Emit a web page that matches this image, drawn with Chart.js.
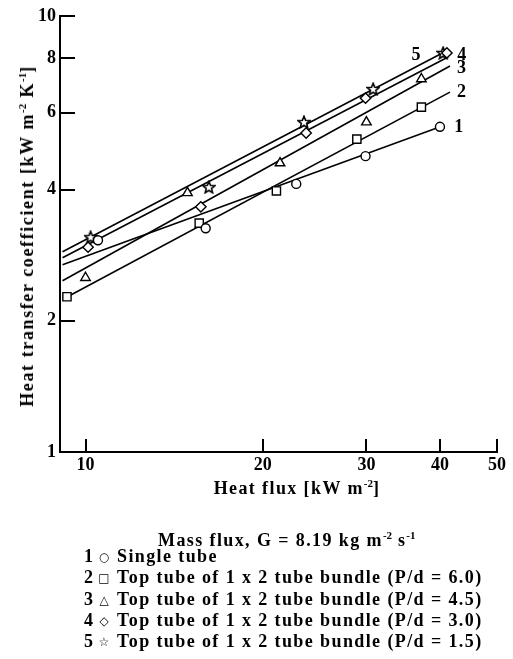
<!DOCTYPE html>
<html>
<head>
<meta charset="utf-8">
<script src="https://cdn.jsdelivr.net/npm/chart.js@4.4.0/dist/chart.umd.min.js"></script>
<style>
  html, body { margin: 0; padding: 0; background: #fff; }
  #wrap { position: relative; width: 513px; height: 659px; overflow: hidden;
    font-family: "Liberation Serif", "Times New Roman", serif; font-weight: bold; color: #000; }
  #plot { position: absolute; left: 0; top: 0; }
  .txt { position: absolute; white-space: nowrap; font-size: 18px; line-height: 20px; letter-spacing: 1.4px; }
  sup { font-size: 11px; line-height: 0; vertical-align: 7px; letter-spacing: 0; }
  #xtitle { left: 297px; top: 478px; transform: translateX(-50%); }
  #ytitle { left: 27px; top: 236px; transform: translate(-50%, -50%) rotate(-90deg); letter-spacing: 1.6px; }
  #mass { left: 158px; top: 530px; }
  .row { position: absolute; left: 0; width: 513px; height: 21px; font-size: 18px; line-height: 20px; white-space: nowrap; }
  .row .n { position: absolute; left: 84px; }
  .row .s { position: absolute; left: 98px; width: 12px; text-align: center; font-family: "DejaVu Sans", sans-serif; font-size: 12px; font-weight: bold; top: 1px; }
  .row .t { position: absolute; left: 117px; letter-spacing: 1.4px; }
</style>
</head>
<body>
<div id="wrap">
  <canvas id="plot" width="513" height="480"></canvas>
  <div class="txt" id="xtitle">Heat flux [kW m<sup>-2</sup>]</div>
  <div class="txt" id="ytitle">Heat transfer coefficient [kW m<sup>-2</sup> K<sup>-1</sup>]</div>
  <div class="txt" id="mass">Mass flux, G = 8.19 kg m<sup>-2</sup> s<sup>-1</sup></div>
  <div id="legend"></div>
</div>
<script>
// axis ticks
var xTicks = [10, 20, 30, 40, 50];
var yTicks = [1, 2, 4, 6, 8, 10];

// measured points (heat flux kW/m2, heat transfer coefficient kW/m2K)
var flux1 = [10.5, 16.0, 22.8, 29.9, 40.0];
var htc1  = [3.06, 3.26, 4.12, 4.77, 5.57];
var flux2 = [9.3, 15.6, 21.1, 28.9, 37.2];
var htc2  = [2.27, 3.35, 3.97, 5.22, 6.18];
var flux3 = [10.0, 14.9, 21.4, 30.0, 37.2];
var htc3  = [2.51, 3.93, 4.60, 5.71, 7.17];
var flux4 = [10.1, 15.7, 23.7, 29.9, 41.1];
var htc4  = [2.95, 3.65, 5.39, 6.48, 8.23];
var flux5 = [10.2, 16.2, 23.5, 30.8, 40.5];
var htc5  = [3.11, 4.05, 5.71, 6.80, 8.23];

// fitted lines, end points
var fitFlux1 = [9.14, 40.05], fitHtc1 = [2.69, 5.57];
var fitFlux2 = [9.32, 41.6],  fitHtc2 = [2.27, 6.69];
var fitFlux3 = [9.14, 41.6],  fitHtc3 = [2.47, 7.68];
var fitFlux4 = [9.14, 41.3],  fitHtc4 = [2.79, 8.05];
var fitFlux5 = [9.14, 40.7],  fitHtc5 = [2.88, 8.27];

var seriesNames = [
  'Single tube',
  'Top tube of 1 x 2 tube bundle (P/d = 6.0)',
  'Top tube of 1 x 2 tube bundle (P/d = 4.5)',
  'Top tube of 1 x 2 tube bundle (P/d = 3.0)',
  'Top tube of 1 x 2 tube bundle (P/d = 1.5)'
];
var legendSymbols = ['\u25CB', '\u25A1', '\u25B3', '\u25C7', '\u2606'];

function pts(xs, ys) {
  return xs.map(function (x, i) { return { x: x, y: ys[i] }; });
}

// 5 pointed open star
var star = document.createElement('canvas');
star.width = 14; star.height = 14;
(function () {
  var c = star.getContext('2d');
  c.beginPath();
  for (var i = 0; i < 10; i++) {
    var r = i % 2 ? 2.8 : 6.3;
    var a = -Math.PI / 2 + i * Math.PI / 5;
    c.lineTo(7 + r * Math.cos(a), 7.5 + r * Math.sin(a));
  }
  c.closePath();
  c.fillStyle = '#fff';
  c.fill();
  c.lineWidth = 1.6;
  c.strokeStyle = '#000';
  c.stroke();
})();

var flux = [flux1, flux2, flux3, flux4, flux5];
var htc = [htc1, htc2, htc3, htc4, htc5];
var fitFlux = [fitFlux1, fitFlux2, fitFlux3, fitFlux4, fitFlux5];
var fitHtc = [fitHtc1, fitHtc2, fitHtc3, fitHtc4, fitHtc5];
var styles = ['circle', 'rect', 'triangle', 'rectRot', star];
var radii = [4.5, 5.8, 5.5, 5.2, 7];

var datasets = [];
for (var i = 0; i < 5; i++) {
  datasets.push({
    label: 'fit ' + (i + 1),
    data: pts(fitFlux[i], fitHtc[i]),
    showLine: true,
    borderColor: '#000',
    borderWidth: 1.6,
    pointRadius: 0,
    order: 2
  });
  datasets.push({
    label: seriesNames[i],
    data: pts(flux[i], htc[i]),
    showLine: false,
    pointStyle: styles[i],
    pointRadius: radii[i],
    pointBorderWidth: 1.4,
    pointBorderColor: '#000',
    pointBackgroundColor: '#fff',
    order: 1
  });
}

var tickFont = { family: 'Liberation Serif', weight: 'bold', size: 18 };

// inward tick marks and line numbers at the right end of each line
var decorations = {
  id: 'decorations',
  afterDraw: function (chart) {
    var ctx = chart.ctx, xs = chart.scales.x, ys = chart.scales.y, area = chart.chartArea;
    ctx.save();
    ctx.strokeStyle = '#000';
    ctx.lineWidth = 2;
    xTicks.forEach(function (v) {
      var px = Math.round(xs.getPixelForValue(v));
      ctx.beginPath(); ctx.moveTo(px, area.bottom); ctx.lineTo(px, area.bottom - 13); ctx.stroke();
    });
    yTicks.forEach(function (v) {
      if (v === 1) return;
      var py = Math.round(ys.getPixelForValue(v));
      ctx.beginPath(); ctx.moveTo(area.left, py); ctx.lineTo(area.left + 15, py); ctx.stroke();
    });
    var offs = [[14, 1], [7, 0], [7, 2], [9, -2], [-33, 3]];
    ctx.fillStyle = '#000';
    ctx.font = 'bold 18px "Liberation Serif"';
    ctx.textBaseline = 'middle';
    for (var k = 0; k < 5; k++) {
      var last = fitFlux[k].length - 1;
      var px2 = xs.getPixelForValue(fitFlux[k][last]);
      var py2 = ys.getPixelForValue(fitHtc[k][last]);
      ctx.fillText(String(k + 1), px2 + offs[k][0], py2 + offs[k][1]);
    }
    ctx.restore();
  }
};

new Chart('plot', {
  type: 'scatter',
  data: { datasets: datasets },
  options: {
    responsive: false,
    animation: false,
    devicePixelRatio: 1,
    layout: { padding: { left: 0, right: 16, top: 16, bottom: 0 } },
    plugins: { legend: { display: false }, tooltip: { enabled: false } },
    scales: {
      x: {
        type: 'logarithmic',
        min: 9.05,
        max: 50,
        afterBuildTicks: function (s) { s.ticks = xTicks.map(function (v) { return { value: v }; }); },
        afterFit: function (s) { s.height = 28; },
        ticks: { callback: function (v) { return String(v); }, color: '#000', font: tickFont, padding: 3, maxRotation: 0, autoSkip: false },
        grid: { display: true, drawOnChartArea: false, drawTicks: false },
        border: { display: true, color: '#000', width: 2 }
      },
      y: {
        type: 'logarithmic',
        min: 1,
        max: 10,
        afterBuildTicks: function (s) { s.ticks = yTicks.map(function (v) { return { value: v }; }); },
        afterFit: function (s) { s.width = 60; },
        ticks: { callback: function (v) { return String(v); }, color: '#000', font: tickFont, padding: 4, autoSkip: false },
        grid: { display: true, drawOnChartArea: false, drawTicks: false },
        border: { display: true, color: '#000', width: 2 }
      }
    }
  },
  plugins: [decorations]
});

// legend rows below the plot
var legend = document.getElementById('legend');
for (var r = 0; r < seriesNames.length; r++) {
  var row = document.createElement('div');
  row.className = 'row';
  row.style.top = (546 + r * 21.3) + 'px';
  row.innerHTML = '<span class="n">' + (r + 1) + '</span><span class="s">' + legendSymbols[r] +
    '</span><span class="t">' + seriesNames[r] + '</span>';
  legend.appendChild(row);
}
</script>
</body>
</html>
